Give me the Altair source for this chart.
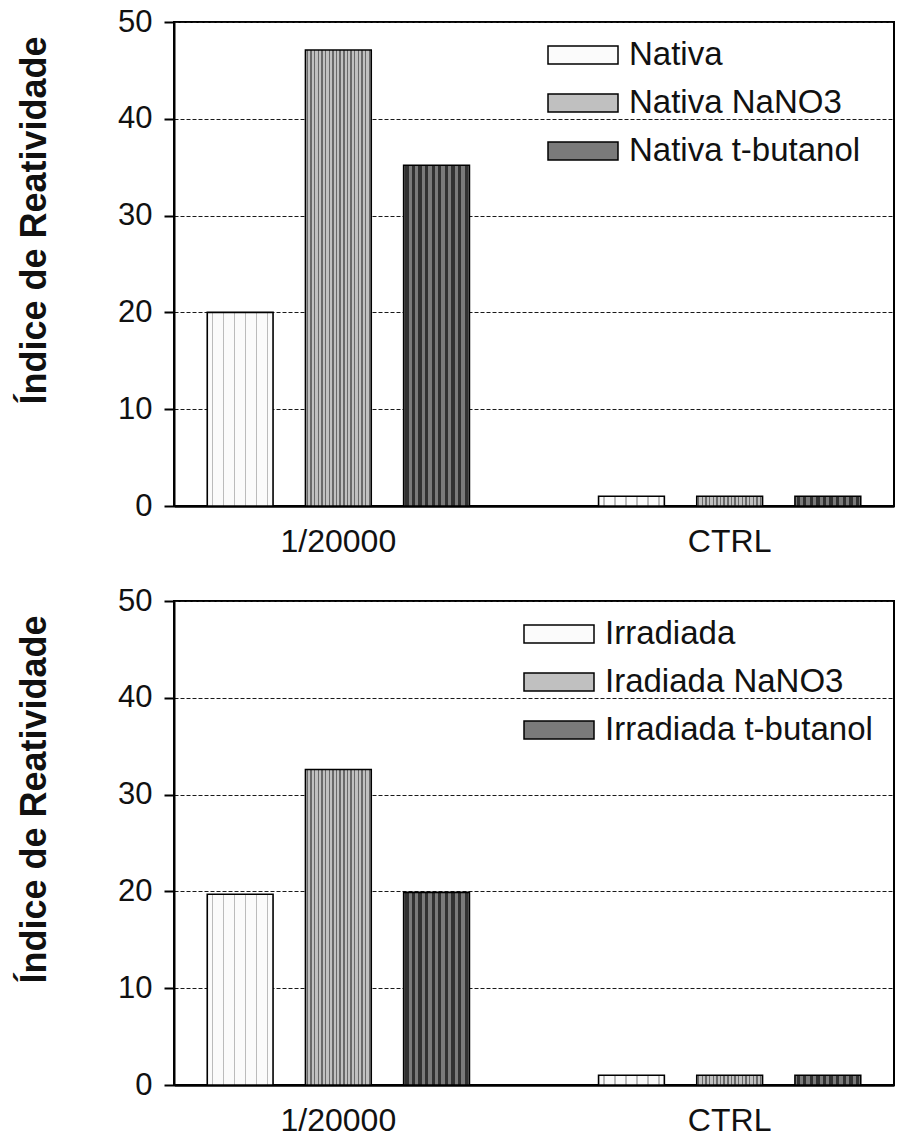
import altair as alt
import pandas as pd

# ---- data -------------------------------------------------------------
categories = ["1/20000", "CTRL"]

nativa_series = ["Nativa", "Nativa NaNO3", "Nativa t-butanol"]
nativa_dilution = [20.0, 47.1, 35.2]
nativa_ctrl = [1.0, 1.0, 1.0]

irradiada_series = ["Irradiada", "Iradiada NaNO3", "Irradiada t-butanol"]
irradiada_dilution = [19.7, 32.6, 19.9]
irradiada_ctrl = [1.0, 1.0, 1.0]

y_ticks = [0, 10, 20, 30, 40, 50]

# ---- styling ----------------------------------------------------------
FONT = "Liberation Sans"
base_fills = ["#fbfbfb", "#c0c0c0", "#7a7a7a"]
# (stripe count, stripe colour, stripe duty) used to give each bar a texture
textures = [
    (6, "rgba(40,40,40,0.30)", 0.12),
    (18, "rgba(0,0,0,0.45)", 0.38),
    (10, "rgba(0,0,0,0.6)", 0.5),
]
LEGEND_SYMBOL = "M-1,-0.26 H1 V0.26 H-1 Z"


def stripe_gradient(n, color, duty):
    clear = "rgba(255,255,255,0)"
    stops = []
    for i in range(n):
        a = i / n
        m = (i + (1 - duty) / 2) / n
        b = (i + (1 + duty) / 2) / n
        c = (i + 1) / n
        stops += [
            alt.GradientStop(offset=a, color=clear),
            alt.GradientStop(offset=m, color=clear),
            alt.GradientStop(offset=m, color=color),
            alt.GradientStop(offset=b, color=color),
            alt.GradientStop(offset=b, color=clear),
            alt.GradientStop(offset=c, color=clear),
        ]
    return alt.Gradient(gradient="linear", stops=stops, x1=0, x2=1, y1=0, y2=0)


def panel(series, dilution, ctrl, legend_x):
    rows = []
    for s, v in zip(series, dilution):
        rows.append({"category": categories[0], "series": s, "value": v})
    for s, v in zip(series, ctrl):
        rows.append({"category": categories[1], "series": s, "value": v})
    df = pd.DataFrame(rows)

    x = alt.X(
        "category:N",
        scale=alt.Scale(domain=categories, paddingInner=0.33, paddingOuter=0.085),
        axis=alt.Axis(
            title=None, labelAngle=0, ticks=False, tickSize=0,
            labelFontSize=32, labelFont=FONT, labelColor="#111",
            labelPadding=20, domainColor="black", domainWidth=2.5,
        ),
    )
    x_off = alt.XOffset(
        "series:N",
        scale=alt.Scale(domain=series, paddingInner=0.33, paddingOuter=0),
    )
    y = alt.Y(
        "value:Q",
        scale=alt.Scale(domain=[0, 50], nice=False),
        axis=alt.Axis(
            values=y_ticks, title="Índice de Reatividade",
            titleFont=FONT, titleFontSize=36, titleFontWeight="bold",
            titleColor="#111", titleX=-121, titleY=198,
            labelFontSize=31, labelFont=FONT, labelColor="#111", labelPadding=12,
            tickSize=10, tickWidth=2, tickColor="black",
            domainColor="black", domainWidth=2,
            grid=True, gridColor="#1a1a1a", gridDash=[4, 2], gridWidth=1,
        ),
    )

    base = alt.Chart(df).mark_bar(strokeWidth=0).encode(
        x=x, xOffset=x_off, y=y,
        color=alt.Color(
            "series:N",
            scale=alt.Scale(domain=series, range=base_fills),
            legend=alt.Legend(
                title=None, orient="none", legendX=legend_x, legendY=13,
                symbolType=LEGEND_SYMBOL, symbolSize=4900,
                symbolStrokeColor="black", symbolStrokeWidth=1.5,
                symbolOpacity=1, labelFont=FONT, labelFontSize=33,
                labelColor="#111", labelOffset=10, labelLimit=0,
                clipHeight=40, rowPadding=8,
            ),
        ),
    )

    layers = [base]
    for s, (n, col, duty) in zip(series, textures):
        layers.append(
            alt.Chart(df)
            .transform_filter(alt.datum.series == s)
            .mark_bar(fill=stripe_gradient(n, col, duty), stroke="black", strokeWidth=1.6)
            .encode(x=x, xOffset=x_off, y=y)
        )
    return alt.layer(*layers).properties(
        width=720, height=484,
        view=alt.ViewBackground(stroke="black", strokeWidth=2),
    )


top = panel(nativa_series, nativa_dilution, nativa_ctrl, 373)
bottom = panel(irradiada_series, irradiada_dilution, irradiada_ctrl, 349)

chart = (
    alt.vconcat(top, bottom, spacing=26)
    .resolve_scale(color="independent", x="independent", y="independent", xOffset="independent")
    .resolve_legend(color="independent")
    .properties(padding={"left": 14, "top": 5, "right": 0, "bottom": 0})
    .configure_view(stroke="black", strokeWidth=2)
    .configure(background="white")
)

chart.save("out.html", embed_options={"renderer": "svg", "actions": False})
